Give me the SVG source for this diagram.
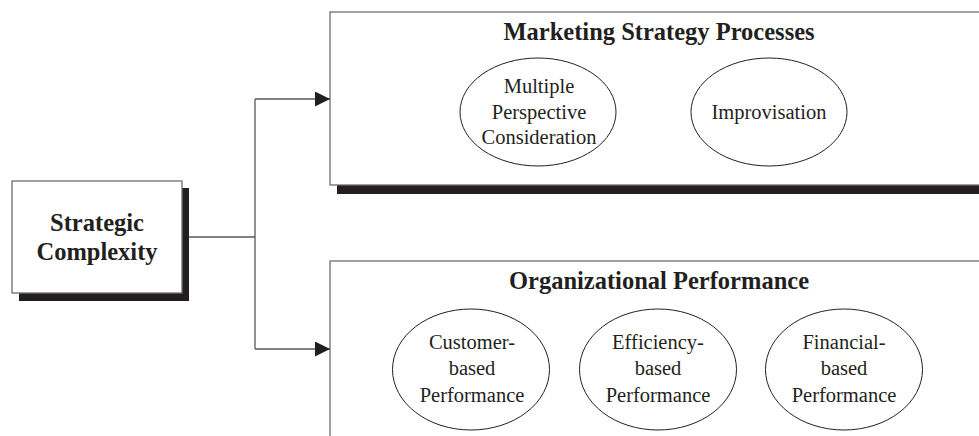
<svg xmlns="http://www.w3.org/2000/svg" width="979" height="436" viewBox="0 0 979 436">
<defs>
<style>
.box{fill:#fff;stroke:#6d6e71;stroke-width:1.3}
.shadow{fill:#231f20}
.ell{fill:#fff;stroke:#231f20;stroke-width:1}
.conn{fill:none;stroke:#58595b;stroke-width:1.3}
.t{font-family:"Liberation Serif","Times New Roman",serif;fill:#231f20;text-anchor:middle}
.title{font-weight:bold;font-size:24.5px}
.lbl{font-size:20.5px}
.main{font-weight:bold;font-size:24.5px}
</style>
<marker id="arr" viewBox="0 0 15 15" refX="15" refY="7.5" markerWidth="15" markerHeight="15" markerUnits="userSpaceOnUse" orient="auto">
<path d="M0,0 L15,7.5 L0,15 Z" fill="#231f20"/>
</marker>
</defs>
<rect width="979" height="436" fill="#fff"/>

<g id="strategic-complexity">
<rect class="shadow" x="19" y="188" width="170" height="113"/>
<rect class="box" x="12" y="181" width="170" height="112"/>
<text class="t main" x="97" y="231">Strategic</text>
<text class="t main" x="97" y="260">Complexity</text>
</g>

<g id="marketing-strategy-processes">
<rect class="shadow" x="337" y="19" width="700" height="175"/>
<rect class="box" x="330" y="12" width="700" height="173"/>
<text class="t title" x="659" y="40">Marketing Strategy Processes</text>
<g id="multiple-perspective">
<ellipse class="ell" cx="538" cy="112" rx="78" ry="54"/>
<text class="t lbl" x="539" y="93">Multiple</text>
<text class="t lbl" x="539" y="119">Perspective</text>
<text class="t lbl" x="539" y="144">Consideration</text>
</g>
<g id="improvisation">
<ellipse class="ell" cx="769" cy="112" rx="78" ry="54"/>
<text class="t lbl" x="769" y="119">Improvisation</text>
</g>
</g>

<g id="organizational-performance">
<rect class="box" x="330" y="261" width="700" height="200"/>
<text class="t title" x="659" y="289">Organizational Performance</text>
<g id="customer-based">
<ellipse class="ell" cx="471" cy="369.5" rx="78.5" ry="60.5"/>
<text class="t lbl" x="472" y="349">Customer-</text>
<text class="t lbl" x="472" y="375">based</text>
<text class="t lbl" x="472" y="402">Performance</text>
</g>
<g id="efficiency-based">
<ellipse class="ell" cx="658" cy="369.5" rx="78.5" ry="60.5"/>
<text class="t lbl" x="658" y="349">Efficiency-</text>
<text class="t lbl" x="658" y="375">based</text>
<text class="t lbl" x="658" y="402">Performance</text>
</g>
<g id="financial-based">
<ellipse class="ell" cx="844" cy="369.5" rx="78.5" ry="60.5"/>
<text class="t lbl" x="844" y="349">Financial-</text>
<text class="t lbl" x="844" y="375">based</text>
<text class="t lbl" x="844" y="402">Performance</text>
</g>
</g>

<g id="connectors">
<path class="conn" d="M189,237 H255"/>
<path class="conn" d="M255,99 V349"/>
<path class="conn" d="M255,99 H330" marker-end="url(#arr)"/>
<path class="conn" d="M255,349 H330" marker-end="url(#arr)"/>
</g>
</svg>
